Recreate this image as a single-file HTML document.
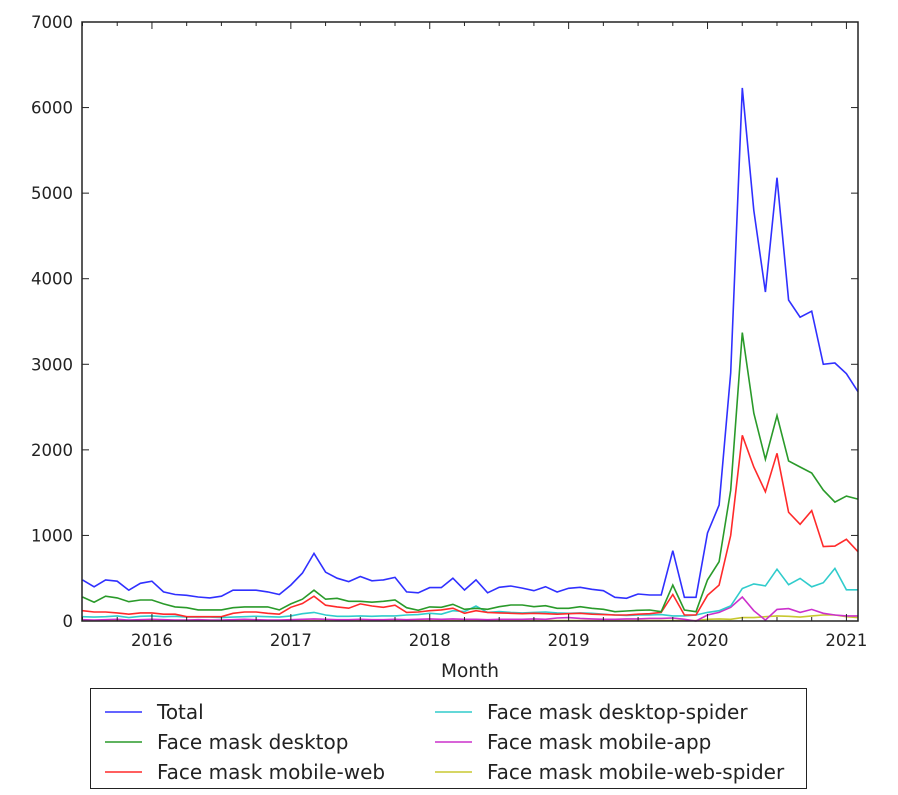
<!DOCTYPE html>
<html><head><meta charset="utf-8"><style>
html,body{margin:0;padding:0;background:#fff;width:898px;height:795px;overflow:hidden}
svg{display:block;font-family:"DejaVu Sans","Liberation Sans",sans-serif}
</style></head><body>
<svg id="s" width="898" height="795" xmlns="http://www.w3.org/2000/svg"></svg>
<script>
const L=82,R=858,T=22,B=621;
const ky=(B-T)/7000, x0=82.5, st=(858-82.5)/67;
const X=i=>x0+i*st, Y=v=>B-v*ky;
const tot=[480,400,480,465,360,440,465,340,310,300,280,270,290,360,360,360,340,310,420,560,790,570,500,460,520,470,480,510,340,330,390,390,500,362,480,330,394,409,385,354,401,339,382,394,370,354,277,265,316,304,304,822,277,277,1028,1355,2900,6230,4800,3845,5180,3750,3550,3620,3000,3015,2890,2680];
const gr=[280,220,290,270,225,245,245,200,165,155,130,130,130,155,165,165,165,130,200,255,360,255,265,230,230,220,230,245,155,125,165,160,195,137,148,137,167,187,187,167,179,148,148,167,148,137,109,117,125,129,109,420,129,109,480,693,1530,3370,2430,1890,2400,1870,1800,1730,1530,1390,1460,1425];
const rd=[120,105,105,95,80,95,95,80,80,50,50,50,50,90,105,105,90,80,160,205,290,185,165,150,200,175,160,185,100,105,120,130,150,90,120,100,95,90,85,90,85,80,85,90,80,75,70,70,80,85,100,310,70,70,300,420,1000,2170,1800,1510,1960,1270,1130,1290,870,875,955,810];
const cy=[50,45,50,60,40,55,60,50,55,45,45,45,40,45,50,55,50,45,60,85,100,70,55,55,60,55,60,60,70,75,90,80,120,110,175,100,110,100,95,100,105,95,90,95,90,80,70,65,70,70,75,60,60,70,100,120,176,380,434,410,605,424,498,400,447,615,365,365];
const mg=[15,10,15,20,10,15,20,15,10,10,15,10,10,15,20,15,10,10,15,20,25,20,15,15,20,15,15,20,15,20,25,20,25,20,20,15,20,20,20,25,20,35,40,30,25,20,20,25,25,30,30,35,20,0,70,100,160,280,120,10,135,145,100,135,90,70,60,60];
const yl=mg.map((v,i)=>i<54?5:[20,25,20,40,40,50,60,55,45,60,70,70,50,40][i-54]);
let h='';
const pl=(d,c)=>{h+=`<polyline fill="none" stroke="${c}" stroke-width="1.6" points="${d.map((v,i)=>X(i).toFixed(1)+','+Y(v).toFixed(1)).join(' ')}"/>`};
pl(yl,'#c8c830');pl(mg,'#cc30cc');pl(cy,'#30cccc');pl(rd,'#ff2a2a');pl(gr,'#2a9a2a');pl(tot,'#3030ff');
h+=`<rect x="${L}" y="${T}" width="${R-L}" height="${B-T}" fill="none" stroke="#222" stroke-width="1.5"/>`;
for(let k=0;k<=7;k++){const y=Y(k*1000);
 h+=`<line x1="${L}" x2="${L+7}" y1="${y}" y2="${y}" stroke="#222"/><line x1="${R-7}" x2="${R}" y1="${y}" y2="${y}" stroke="#222"/>`;
 h+=`<text x="73" y="${y+6}" font-size="16.5" text-anchor="end" fill="#222">${k*1000}</text>`;}
for(let q=0;q<25;q++){const x=X(0)+(q*3)*st; if(x>R)break;
 const isYear=(q%4)==2; const len=isYear?7:4;
 h+=`<line x1="${x}" x2="${x}" y1="${B}" y2="${B-len}" stroke="#222"/><line x1="${x}" x2="${x}" y1="${T}" y2="${T+len}" stroke="#222"/>`;
 if(isYear) h+=`<text x="${x}" y="646" font-size="16.5" text-anchor="middle" fill="#222">${2015+(q+2)/4}</text>`;}
h+=`<text x="470" y="677" font-size="18.5" text-anchor="middle" fill="#222">Month</text>`;
h+=`<rect x="90.5" y="688.5" width="716" height="100" fill="#fff" stroke="#222"/>`;
const lg=[['Total','#3030ff',0,0],['Face mask desktop','#2a9a2a',0,1],['Face mask mobile-web','#ff2a2a',0,2],['Face mask desktop-spider','#30cccc',1,0],['Face mask mobile-app','#cc30cc',1,1],['Face mask mobile-web-spider','#c8c830',1,2]];
for(const [t,c,col,r] of lg){const lx=col?435:105, y=712+r*30;
 h+=`<line x1="${lx}" x2="${lx+37}" y1="${y}" y2="${y}" stroke="${c}" stroke-width="1.6"/><text x="${lx+52}" y="${y+7}" font-size="20" fill="#222">${t}</text>`;}
document.getElementById('s').innerHTML=h;
</script>
</body></html>
